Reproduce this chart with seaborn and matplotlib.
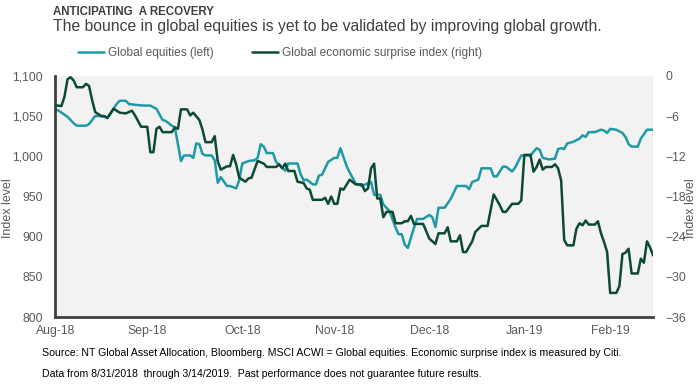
import matplotlib
matplotlib.use("Agg")
import matplotlib.pyplot as plt
import matplotlib.ticker as mticker
import pandas as pd
import seaborn as sns

START = pd.Timestamp("2018-08-31")

# days after 8/31/2018
eq_day = [0, 1, 4, 6, 7, 10, 11, 12, 13, 15, 17, 18, 20, 21, 23, 24, 26, 29, 31, 33,
          35, 36, 38, 39, 41, 42, 44, 45, 46, 47, 48, 49, 51, 52, 53, 54, 56, 57, 59, 60,
          61, 63, 65, 66, 67, 68, 69, 71, 72, 74, 75, 76, 79, 80, 81, 82, 84, 85, 86, 87,
          89, 91, 92, 93, 95, 96, 98, 100, 103, 104, 106, 107, 109, 111, 112, 113, 114, 115, 117, 118,
          120, 122, 123, 124, 125, 127, 129, 131, 134, 135, 136, 138, 139, 142, 143, 144, 146, 147, 149, 150,
          152, 155, 157, 158, 159, 161, 163, 164, 165, 166, 167, 169, 171, 172, 173, 174, 176, 178, 179, 180,
          181, 183, 185, 186, 187, 188, 190, 191, 193, 195]
equities = [1058, 1057, 1049, 1041, 1038, 1038, 1040, 1045, 1050, 1050, 1048, 1053, 1065, 1069, 1069, 1065, 1064, 1063, 1063, 1059,
            1045, 1044, 1038, 1036, 994, 1001, 1001, 998, 1016, 1015, 1003, 1001, 1001, 995, 967, 974, 963, 963, 960, 970,
            991, 994, 995, 998, 1015, 1012, 1004, 1004, 993, 986, 982, 991, 991, 978, 970, 971, 965, 965, 976, 977,
            993, 998, 998, 1010, 988, 980, 966, 963, 968, 952, 952, 940, 932, 911, 903, 903, 890, 886, 911, 922,
            922, 927, 924, 912, 936, 936, 947, 963, 963, 959, 968, 971, 985, 985, 975, 975, 987, 987, 981, 986,
            1001, 1001, 1010, 1008, 998, 996, 997, 1009, 1010, 1009, 1016, 1018, 1022, 1026, 1024, 1030, 1030, 1033, 1032, 1029,
            1034, 1033, 1029, 1024, 1015, 1012, 1012, 1022, 1033, 1033]

es_day = [0, 2, 3, 4, 5, 6, 7, 9, 10, 11, 12, 13, 15, 16, 17, 18, 19, 21, 23, 25,
          26, 28, 30, 31, 32, 33, 34, 35, 38, 39, 40, 41, 43, 44, 45, 47, 48, 49, 51, 52,
          53, 54, 56, 57, 58, 59, 60, 62, 63, 64, 66, 68, 69, 72, 73, 74, 75, 76, 78, 79,
          81, 82, 83, 84, 87, 88, 89, 90, 91, 92, 93, 94, 96, 98, 100, 101, 102, 103, 104, 105,
          106, 107, 108, 110, 111, 113, 114, 115, 116, 117, 120, 122, 123, 124, 125, 127, 128, 129, 131, 132,
          133, 134, 136, 137, 139, 141, 143, 145, 146, 147, 149, 151, 152, 153, 155, 156, 157, 158, 159, 160,
          162, 163, 164, 165, 166, 167, 169, 170, 171, 172, 173, 174, 176, 177, 178, 179, 180, 181, 183, 184,
          185, 186, 187, 188, 190, 191, 192, 193, 194, 195]
surprise = [-4.4, -4.5, -3.1, -0.5, -0.2, -0.7, -1.7, -1.7, -1.2, -1.5, -3.6, -5.4, -6.0, -6.0, -6.3, -5.6, -4.9, -5.5, -5.6, -5.2,
            -5.9, -7.6, -7.6, -11.4, -11.4, -7.9, -7.6, -8.4, -8.4, -7.7, -7.9, -5.0, -5.0, -5.9, -5.5, -6.6, -8.0, -9.9, -9.9, -9.0,
            -12.8, -14.0, -13.5, -13.5, -11.8, -13.2, -15.2, -15.8, -15.3, -15.2, -12.7, -13.1, -13.6, -13.6, -13.2, -13.8, -13.1, -14.2, -14.2, -15.8,
            -16.0, -16.8, -17.0, -18.5, -18.5, -18.2, -19.1, -18.0, -19.1, -19.1, -16.8, -17.0, -15.5, -16.2, -16.2, -17.2, -16.8, -13.8, -13.1, -18.3,
            -18.3, -21.1, -20.3, -20.3, -22.0, -22.0, -21.7, -21.7, -20.9, -22.1, -22.1, -24.3, -24.7, -25.1, -23.5, -23.5, -22.6, -24.7, -24.7, -23.8,
            -26.3, -26.3, -24.7, -23.3, -22.4, -22.4, -17.7, -19.3, -20.3, -20.3, -19.1, -19.1, -18.6, -11.8, -11.8, -14.3, -13.6, -12.5, -14.0, -13.6,
            -13.6, -13.2, -13.8, -15.6, -24.5, -25.3, -25.3, -22.8, -22.0, -22.3, -21.6, -22.2, -22.2, -21.7, -23.5, -24.8, -26.3, -32.4, -32.4, -31.4,
            -26.6, -26.4, -25.8, -29.5, -29.5, -27.3, -27.9, -24.7, -25.6, -26.8]

month_ticks = ["2018-08-31", "2018-09-30", "2018-10-31", "2018-11-30",
               "2018-12-31", "2019-01-31", "2019-02-28"]
month_labels = ["Aug-18", "Sep-18", "Oct-18", "Nov-18", "Dec-18", "Jan-19", "Feb-19"]

TEAL = "#1d9aa5"
DARK = "#0c4a35"
GREY = "#595959"

eq = pd.DataFrame({"date": START + pd.to_timedelta(eq_day, unit="D"), "value": equities})
es = pd.DataFrame({"date": START + pd.to_timedelta(es_day, unit="D"), "value": surprise})

sns.set_style("white")
plt.rcParams["font.family"] = ["Liberation Sans", "DejaVu Sans"]

fig = plt.figure(figsize=(7, 3.89), dpi=100)
ax = fig.add_axes([0.079, 0.185, 0.854, 0.620])
ax.set_facecolor("#f2f2f2")
ax2 = ax.twinx()

sns.lineplot(data=eq, x="date", y="value", ax=ax, color=TEAL, lw=1.8, label="Global equities (left)", legend=False)
sns.lineplot(data=es, x="date", y="value", ax=ax2, color=DARK, lw=1.8,
             label="Global economic surprise index (right)", legend=False)

ax.set_xlim(START, pd.Timestamp("2019-03-14"))
ax.set_ylim(800, 1100)
ax2.set_ylim(-36, 0)
ax.set_yticks(range(800, 1101, 50))
ax2.set_yticks(range(-36, 1, 6))
ax.yaxis.set_major_formatter(mticker.FuncFormatter(lambda v, p: f"{v:,.0f}"))
ax.set_xticks(pd.to_datetime(month_ticks))
ax.set_xticklabels(month_labels)

for a in (ax, ax2):
    for s in a.spines.values():
        s.set_visible(False)
    a.tick_params(length=0, labelsize=8.8, colors=GREY, pad=6)
    a.set_xlabel("")
    a.grid(False)
for s in ("left", "bottom"):
    ax.spines[s].set_visible(True)
    ax.spines[s].set_color("#404040")
    ax.spines[s].set_linewidth(2)
ax.tick_params(axis="y", pad=9)
ax2.tick_params(axis="y", pad=9)

ax.set_ylabel("Index level", fontsize=9, color=GREY)
ax.yaxis.set_label_coords(-0.069, 0.45)
ax2.set_ylabel("Index level", fontsize=9, color=GREY, rotation=90)
ax2.yaxis.set_label_coords(1.053, 0.45)

fig.text(0.076, 0.985, "ANTICIPATING  A RECOVERY", fontsize=8.3, fontweight="bold",
         color="#404040", va="top")
fig.text(0.076, 0.95, "The bounce in global equities is yet to be validated by improving global growth.",
         fontsize=11.3, color="#404040", va="top")

handles = ax.get_lines()[:1] + ax2.get_lines()[:1]
fig.legend(handles, [h.get_label() for h in handles], loc="center", bbox_to_anchor=(0.4, 0.864),
           ncol=2, frameon=False, fontsize=8.6, handlelength=2.2, handletextpad=0.3,
           columnspacing=3.2, labelcolor=GREY)

fig.text(0.06, 0.085, "Source: NT Global Asset Allocation, Bloomberg. MSCI ACWI = Global equities. "
         "Economic surprise index is measured by Citi.", fontsize=7.6, color="black")
fig.text(0.06, 0.03, "Data from 8/31/2018  through 3/14/2019.  Past performance does not guarantee future results.",
         fontsize=7.6, color="black")

fig.savefig("out.png", dpi=100)
